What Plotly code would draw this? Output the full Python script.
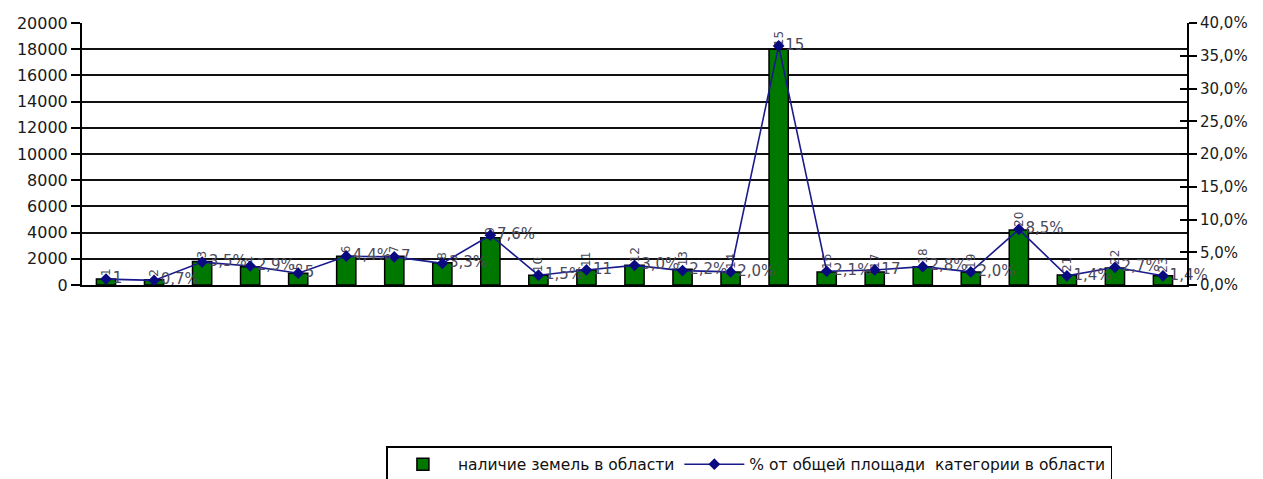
import plotly.graph_objects as go

# Land categories of the region, numbered 1..23
categories = list(range(1, 24))

# Area of land per category (left axis)
land_area = [450, 400, 1800, 1400, 900, 2200, 2200, 1700, 3600, 750, 1150, 1500,
             1200, 1000, 18000, 1000, 1000, 1400, 1000, 4200, 760, 1300, 700]

# Share of the category's total area in the region, % (right axis)
share_pct = [0.9, 0.7, 3.5, 2.9, 1.8, 4.4, 4.3, 3.3, 7.6, 1.5, 2.3, 3.0,
             2.2, 2.0, 36.5, 2.1, 2.3, 2.8, 2.0, 8.5, 1.4, 2.7, 1.4]

# Points whose label shows the category number instead of the percentage
number_labelled = [1, 5, 7, 11, 15, 17]

bar_name = "наличие земель в области"
line_name = "% от общей площади  категории в области"


def pct_text(v):
    return f"{v:.1f}%".replace(".", ",")


point_labels = [str(c) if c in number_labelled else pct_text(v)
                for c, v in zip(categories, share_pct)]

FONT = "DejaVu Sans"
LABEL_COLOR = "#4a4a5c"

fig = go.Figure()

fig.add_trace(go.Bar(
    x=categories,
    y=land_area,
    name=bar_name,
    marker=dict(color="#007800", line=dict(color="#000000", width=1.5)),
    text=[str(c) for c in categories],
    textposition="outside",
    textangle=-90,
    textfont=dict(family=FONT, size=12, color=LABEL_COLOR),
    cliponaxis=False,
    yaxis="y",
))

fig.add_trace(go.Scatter(
    x=categories,
    y=[v / 100 for v in share_pct],
    name=line_name,
    mode="lines+markers+text",
    line=dict(color="#1a1a8c", width=1.6),
    marker=dict(symbol="diamond", size=9, color="#0a0a80"),
    text=point_labels,
    textposition="middle right",
    textfont=dict(family=FONT, size=15, color=LABEL_COLOR),
    cliponaxis=False,
    yaxis="y2",
))

# Empty helper trace so the crossing tick marks of the right axis are drawn
fig.add_trace(go.Scatter(
    x=[None],
    y=[None],
    mode="lines",
    showlegend=False,
    hoverinfo="skip",
    yaxis="y3",
))

fig.update_layout(
    width=1263,
    height=479,
    margin=dict(l=82, r=76, t=23, b=194, autoexpand=False),
    paper_bgcolor="white",
    plot_bgcolor="white",
    separators=", ",
    bargap=0.6,
    font=dict(family=FONT, size=15, color="#111111"),
    showlegend=True,
    xaxis=dict(
        range=[0.5, 23.5],
        showticklabels=False,
        ticks="",
        showgrid=False,
        showline=True,
        linecolor="#000000",
        linewidth=2,
        zeroline=False,
    ),
    yaxis=dict(
        range=[0, 20000],
        dtick=2000,
        tickformat="d",
        ticks="outside",
        ticklen=9,
        tickwidth=2,
        tickcolor="#000000",
        showgrid=True,
        gridcolor="#111111",
        gridwidth=2,
        showline=True,
        linecolor="#000000",
        linewidth=2,
        zeroline=False,
        tickfont=dict(family=FONT, size=16, color="#1a1a1a"),
    ),
    yaxis2=dict(
        range=[0, 0.4],
        dtick=0.05,
        tickformat=".1%",
        overlaying="y",
        side="right",
        ticks="outside",
        ticklen=8,
        tickwidth=2,
        tickcolor="#000000",
        showgrid=False,
        showline=True,
        linecolor="#000000",
        linewidth=2,
        zeroline=False,
        tickfont=dict(family=FONT, size=15, color="#1a1a1a"),
    ),
    yaxis3=dict(
        range=[0, 0.4],
        dtick=0.05,
        overlaying="y",
        side="right",
        anchor="x",
        ticks="inside",
        ticklen=7,
        tickwidth=2,
        tickcolor="#000000",
        showticklabels=False,
        showgrid=False,
        showline=False,
        zeroline=False,
    ),
    legend=dict(
        orientation="h",
        x=0.604,
        xanchor="center",
        y=-0.615,
        yanchor="top",
        bordercolor="#000000",
        borderwidth=1.5,
        bgcolor="white",
        font=dict(family=FONT, size=15.5, color="#111111"),
        itemwidth=60,
        tracegroupgap=0,
    ),
)

fig.write_html("out.html")
